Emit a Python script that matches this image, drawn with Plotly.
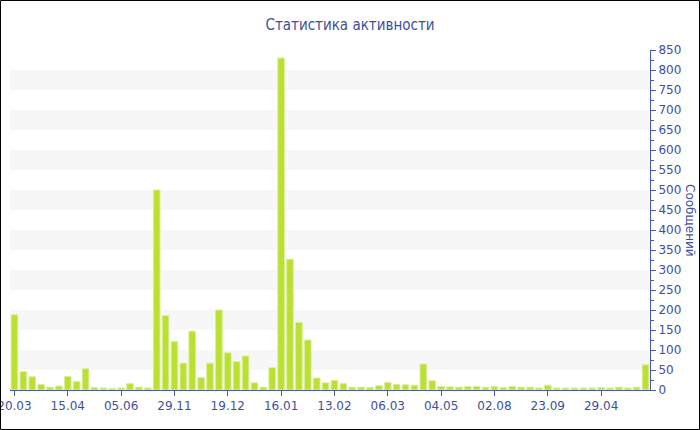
import plotly.graph_objects as go

# Data
values = [188, 46, 33, 14, 7, 10, 34, 21, 53, 6, 5, 4, 5, 16, 7, 5,
          500, 186, 121, 67, 147, 31, 67, 200, 93, 71, 85, 18, 7, 56,
          830, 327, 169, 125, 30, 18, 24,
          16, 7, 7, 6, 11, 19, 14, 13, 12, 65, 23,
          9, 8, 7, 9, 9, 7, 9, 6, 9, 7, 7, 5, 12, 5, 5, 5, 5, 5, 6, 5, 7, 5, 7, 63]
tick_labels = ["20.03", "15.04", "05.06", "29.11", "19.12", "16.01",
               "13.02", "06.03", "04.05", "02.08", "23.09", "29.04"]
title_text = "Статистика активности"
y_title = "Сообщений"

positions = list(range(len(values)))
tick_step = 6
tick_positions = positions[::tick_step][:len(tick_labels)]

TEXT = "#3d4f9e"
AXIS = "#4a5aa6"
FONT = "DejaVu Sans"

fig = go.Figure()
fig.add_trace(go.Bar(
    x=positions, y=values,
    marker=dict(color="#bae031", line=dict(color="#dcef9c", width=1)),
    width=0.75,
))

# alternating bands
shapes = []
y_max = 850
band = 50
for lo in range(band, y_max - band + 1, 2 * band):
    shapes.append(dict(type="rect", xref="paper", yref="y", x0=0, x1=1,
                       y0=lo, y1=lo + band, fillcolor="#f7f7f7",
                       line=dict(width=0), layer="below"))

W, H = 700, 430
ml, mr, mt, mb = 10, 50, 50, 40
pw, ph = W - ml - mr, H - mt - mb
shapes.append(dict(type="rect", xref="paper", yref="paper",
                   x0=-(ml - 0.5) / pw, x1=1 + (mr - 0.5) / pw,
                   y0=-(mb - 0.5) / ph, y1=1 + (mt - 0.5) / ph,
                   line=dict(color="black", width=1), fillcolor="rgba(0,0,0,0)"))

fig.update_layout(
    width=W, height=H,
    margin=dict(l=ml, r=mr, t=mt, b=mb, autoexpand=False),
    paper_bgcolor="white", plot_bgcolor="white",
    showlegend=False,
    font=dict(family=FONT, color=TEXT, size=12),
    title=dict(text=title_text, x=0.5, xref="container", xanchor="center",
               y=1 - 25 / H, yanchor="middle",
               font=dict(family="DejaVu Sans Condensed, DejaVu Sans", size=15, color=TEXT)),
    shapes=shapes,
    bargap=0.25,
    annotations=[dict(text=y_title, xref="paper", yref="paper",
                      x=1 + 40 / pw, y=0.5, showarrow=False, textangle=90,
                      xanchor="center", yanchor="middle",
                      font=dict(family=FONT, size=12, color=TEXT))],
)
fig.update_xaxes(
    range=[-0.5, len(values) - 0.5],
    tickmode="array", tickvals=tick_positions, ticktext=tick_labels,
    showline=True, linecolor=AXIS, linewidth=1,
    ticks="outside", ticklen=5, tickcolor=AXIS,
    showgrid=False, zeroline=False, automargin=False,
    ticklabeloverflow="allow",
    tickfont=dict(family=FONT, size=12, color=TEXT),
)
fig.update_yaxes(
    range=[0, y_max], side="right", dtick=50,
    showline=True, linecolor=AXIS, linewidth=1,
    ticks="outside", ticklen=5, tickcolor=AXIS,
    minor=dict(dtick=25, ticks="outside", ticklen=3, tickcolor=AXIS, showgrid=False),
    showgrid=False, zeroline=False, automargin=False,
    tickfont=dict(family=FONT, size=12, color=TEXT),
)

fig.write_html(
    "out.html",
    config={"displayModeBar": False},
    post_script="document.body.style.margin='0';document.body.style.padding='0';",
)
